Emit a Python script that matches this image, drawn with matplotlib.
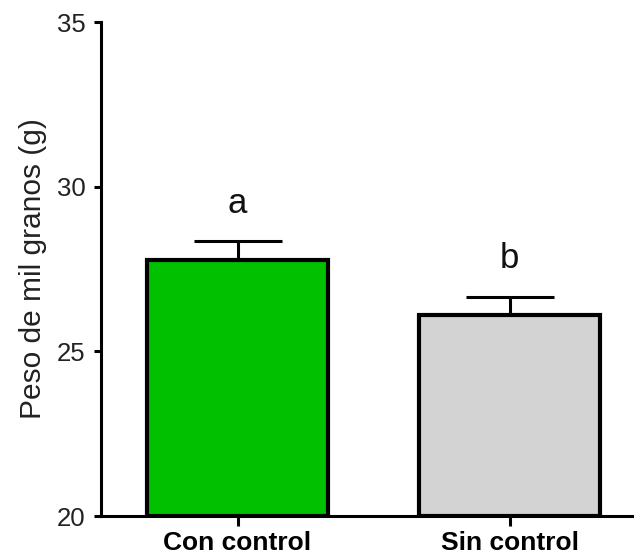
import matplotlib
matplotlib.use("Agg")
import matplotlib.pyplot as plt

categories = ["Con control", "Sin control"]
means = [27.78, 26.10]
sems = [0.57, 0.56]
letters = ["a", "b"]
colors = ["#00C000", "#D3D3D3"]
yticks = [20, 25, 30, 35]

plt.rcParams['font.family'] = ['Liberation Sans', 'DejaVu Sans']

fig = plt.figure(figsize=(6.38, 5.59), dpi=100)
ax = fig.add_axes([0.1583, 0.0769, 0.8323, 0.8837])

x = list(range(len(categories)))
ax.errorbar(x, means, yerr=[[0]*len(sems), sems], fmt='none', ecolor='black',
            elinewidth=2.2, capsize=32, capthick=2.2, zorder=1)
ax.bar(x, [m - 20 for m in means], bottom=20, width=0.665, color=colors,
       edgecolor='black', linewidth=3.0, zorder=2)

for xi, m, s, l in zip(x, means, sems, letters):
    ax.text(xi, m + s + 0.86, l, ha='center', va='baseline', fontsize=25,
            color='#111111')

ax.set_ylim(20, 35)
ax.set_xlim(-0.502, 1.45)
ax.set_yticks(yticks)
ax.set_yticklabels([str(t) for t in yticks], fontsize=18.5, color='#222222')
ax.set_xticks(x)
ax.set_xticklabels(categories, fontsize=19, fontweight='bold')
ax.set_ylabel("Peso de mil granos (g)", fontsize=21.5, color='#222222', labelpad=7)

for side in ['top', 'right']:
    ax.spines[side].set_visible(False)
for side in ['left', 'bottom']:
    ax.spines[side].set_linewidth(2.2)
ax.tick_params(axis='y', length=5, width=2.2, pad=6)
ax.tick_params(axis='x', length=7, width=2.2, pad=4)

fig.savefig("out.png", dpi=100)
